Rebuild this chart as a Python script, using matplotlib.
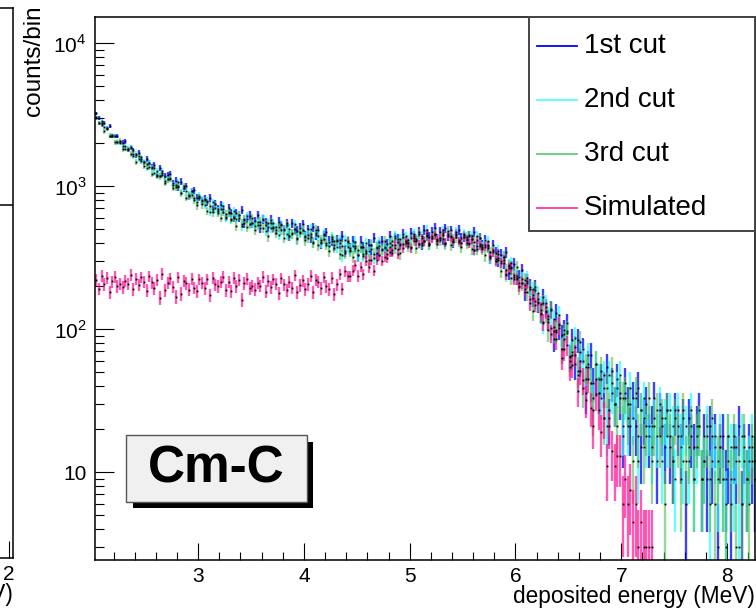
import numpy as np
import matplotlib
matplotlib.use('Agg')
import matplotlib.pyplot as plt
from matplotlib.patches import Rectangle
from matplotlib.lines import Line2D
from matplotlib.ticker import FixedLocator, MultipleLocator, NullFormatter

plt.rcParams['font.family'] = ['Liberation Sans', 'DejaVu Sans']
plt.rcParams['mathtext.fontset'] = 'custom'
plt.rcParams['mathtext.rm'] = 'Liberation Sans'

# histogram binning (MeV)
bin_lo = 2.025
bin_w = 0.025

# 1st cut (blue)
cut1 = [
    3221, 2980, 2762, 2752, 2544, 2617, 2245, 2241, 2239, 2036,
    2014, 2054, 1792, 1868, 1777, 1642, 1715, 1550, 1462, 1547,
    1454, 1351, 1398, 1201, 1338, 1227, 1177, 1196, 1221, 1046,
    1093, 981, 1074, 967, 1000, 850, 916, 938, 831, 831,
    784, 815, 770, 828, 690, 754, 689, 737, 686, 608,
    707, 649, 599, 647, 599, 683, 551, 593, 621, 552,
    569, 624, 508, 583, 560, 514, 583, 517, 490, 563,
    533, 494, 548, 447, 551, 500, 484, 512, 543, 449,
    497, 438, 514, 454, 489, 397, 452, 475, 409, 416,
    388, 421, 397, 446, 353, 408, 369, 411, 379, 327,
    409, 372, 342, 389, 361, 435, 343, 384, 415, 371,
    392, 451, 358, 434, 423, 391, 460, 410, 397, 468,
    450, 420, 478, 389, 494, 452, 443, 476, 510, 426,
    478, 424, 505, 450, 490, 404, 465, 493, 431, 443,
    417, 452, 428, 477, 379, 432, 385, 420, 379, 315,
    388, 343, 303, 330, 292, 345, 247, 269, 283, 228,
    233, 258, 181, 218, 198, 164, 197, 151, 130, 168,
    142, 118, 138, 85, 130, 102, 91, 99, 110, 64,
    84, 57, 84, 60, 72, 36, 57, 66, 42, 45,
    36, 45, 39, 54, 24, 42, 30, 45, 33, 18,
    42, 30, 21, 33, 21, 39, 15, 24, 30, 18,
    21, 33, 12, 27, 21, 15, 27, 15, 12, 27,
    21, 15, 24, 6, 24, 18, 15, 21, 27, 9,
    18, 9, 21, 12, 18, 3, 15, 18, 9, 12,
    6, 15, 12, 21, 6, 15, 9, 15, 12, 9,
]

# 2nd cut (cyan)
cut2 = [
    3045, 2775, 2843, 2583, 2560, 2245, 2282, 2247, 2041, 2004,
    1894, 1906, 1806, 1853, 1618, 1677, 1552, 1588, 1482, 1334,
    1446, 1335, 1236, 1274, 1185, 1276, 1078, 1114, 1132, 1018,
    1015, 1063, 897, 976, 930, 853, 922, 824, 778, 857,
    804, 742, 792, 657, 770, 697, 667, 690, 721, 602,
    656, 581, 666, 592, 631, 524, 590, 617, 541, 552,
    523, 561, 535, 593, 487, 550, 505, 552, 515, 454,
    543, 497, 459, 504, 466, 542, 431, 469, 496, 438,
    454, 504, 402, 469, 448, 406, 464, 403, 378, 439,
    410, 374, 419, 328, 418, 372, 358, 381, 409, 328,
    375, 325, 399, 351, 389, 316, 376, 405, 356, 373,
    356, 398, 385, 445, 361, 425, 394, 444, 420, 373,
    462, 425, 396, 445, 415, 493, 394, 435, 465, 416,
    435, 490, 393, 465, 449, 412, 476, 420, 400, 465,
    439, 403, 450, 355, 445, 394, 374, 390, 410, 317,
    355, 300, 354, 297, 319, 239, 279, 292, 233, 234,
    211, 225, 202, 228, 161, 190, 157, 178, 150, 110,
    151, 124, 102, 117, 95, 125, 72, 85, 94, 65,
    69, 87, 48, 69, 60, 45, 66, 42, 33, 57,
    45, 33, 48, 21, 48, 36, 30, 39, 48, 21,
    33, 21, 39, 24, 33, 12, 27, 33, 18, 21,
    15, 24, 18, 30, 12, 24, 18, 27, 21, 9,
    27, 18, 12, 21, 12, 27, 9, 15, 21, 9,
    12, 21, 6, 18, 15, 9, 18, 9, 6, 18,
    15, 9, 15, 3, 18, 12, 9, 12, 18, 12,
]

# 3rd cut (green)
cut3 = [
    2980, 2753, 2671, 2409, 2512, 2251, 2232, 2021, 2018, 2073,
    1815, 1828, 1828, 1674, 1679, 1474, 1617, 1486, 1382, 1431,
    1351, 1217, 1335, 1177, 1167, 1193, 1056, 1116, 1117, 974,
    978, 996, 894, 1000, 830, 868, 860, 799, 732, 833,
    743, 793, 673, 724, 656, 745, 652, 601, 663, 634,
    649, 592, 604, 528, 625, 546, 581, 519, 546, 599,
    494, 533, 563, 505, 535, 446, 553, 505, 468, 519,
    494, 433, 531, 451, 462, 497, 425, 478, 493, 417,
    436, 465, 406, 492, 385, 422, 426, 390, 352, 427,
    371, 415, 336, 381, 340, 411, 350, 320, 370, 355,
    373, 337, 354, 305, 387, 336, 371, 332, 362, 411,
    335, 376, 411, 370, 405, 338, 437, 403, 380, 430,
    416, 366, 464, 397, 413, 450, 389, 444, 462, 396,
    418, 452, 398, 488, 386, 428, 438, 407, 373, 452,
    398, 446, 363, 409, 363, 434, 365, 327, 371, 345,
    353, 311, 314, 256, 318, 258, 277, 228, 240, 271,
    197, 211, 222, 181, 192, 134, 189, 154, 128, 152,
    131, 98, 137, 97, 98, 109, 72, 92, 97, 60,
    66, 75, 51, 81, 39, 54, 54, 42, 27, 57,
    36, 51, 24, 39, 27, 51, 30, 21, 36, 33,
    36, 24, 30, 12, 36, 18, 27, 15, 21, 33,
    12, 21, 27, 18, 24, 6, 27, 18, 12, 24,
    18, 9, 27, 12, 15, 21, 9, 18, 21, 9,
    12, 18, 9, 24, 6, 12, 15, 9, 3, 18,
    9, 18, 3, 12, 6, 18, 9, 6, 15, 12,
]

# simulated (pink)
sim = [
    222, 192, 236, 206, 228, 182, 216, 232, 200, 208,
    196, 218, 208, 240, 190, 224, 204, 230, 214, 186,
    234, 212, 194, 220, 165, 244, 188, 210, 226, 198,
    168, 231, 177, 217, 209, 189, 225, 195, 185, 223,
    211, 193, 223, 173, 229, 205, 199, 215, 233, 187,
    215, 185, 229, 199, 221, 160, 209, 225, 193, 201,
    189, 211, 201, 233, 183, 217, 197, 223, 207, 179,
    227, 205, 187, 213, 195, 237, 181, 203, 219, 191,
    206, 236, 182, 222, 214, 194, 230, 200, 190, 228,
    175, 205, 241, 192, 255, 235, 234, 256, 280, 236,
    272, 243, 300, 271, 304, 256, 305, 332, 301, 319,
    313, 347, 343, 390, 337, 387, 370, 410, 397, 369,
    435, 412, 394, 431, 412, 468, 401, 430, 453, 418,
    432, 470, 402, 451, 439, 412, 455, 414, 399, 443,
    424, 396, 428, 358, 421, 383, 366, 377, 388, 324,
    345, 300, 336, 291, 304, 241, 266, 272, 225, 223,
    201, 211, 190, 210, 152, 173, 148, 162, 137, 112,
    134, 112, 93, 103, 85, 106, 63, 72, 77, 54,
    56, 66, 37, 51, 44, 32, 45, 28, 21, 35,
    27, 19, 24, 11, 21, 14, 11, 13, 13, 6,
    9, 6, 7.5, 4.5, 6, 3, 4.5, 3, 3, 3,
    3,
]

series = [
    (cut1, '#0000ff', 3.0, 0.75),
    (cut2, '#22ffff', 3.0, 0.7),
    (cut3, '#55bb55', 3.0, 0.6),
    (sim, '#ff1493', 2.0, 0.7),
]

fig = plt.figure(figsize=(7.56, 6.10), dpi=100)

# main pad
ax = fig.add_axes([95 / 756, 50 / 610, 660 / 756, 543 / 610])
ax.set_yscale('log')

for vals, col, k, al in series:
    v = np.array(vals, dtype=float)
    x = bin_lo + bin_w * (np.arange(len(v)) + 0.5)
    err = np.sqrt(k * v)
    lo = np.minimum(err, v - 0.3)
    ax.errorbar(x, v, yerr=[lo, err], fmt='none', ecolor=col, elinewidth=1.7,
                alpha=al, capsize=0, zorder=2)
    ax.plot(x, v, 's', ms=1.3, mec='none', color='black', zorder=3)

ax.set_xlim(2.025, 8.265)
ax.set_ylim(2.43, 1.52e4)

ax.xaxis.set_major_locator(FixedLocator([3, 4, 5, 6, 7, 8]))
ax.xaxis.set_minor_locator(MultipleLocator(0.2))
ax.yaxis.set_major_locator(FixedLocator([10, 100, 1000, 10000]))
ax.set_yticklabels(['10', r'$10^{2}$', r'$10^{3}$', r'$10^{4}$'])
ax.yaxis.set_minor_formatter(NullFormatter())

ax.tick_params(axis='x', which='major', direction='in', length=12, width=0.8,
               labelsize=15, pad=5, top=False)
ax.tick_params(axis='x', which='minor', direction='in', length=5.8, width=0.8, top=False)
ax.tick_params(axis='y', which='major', direction='in', length=14, width=0.8,
               labelsize=15, pad=6, right=False)
ax.tick_params(axis='y', which='minor', direction='in', length=6.5, width=0.8, right=False)
for s in ax.spines.values():
    s.set_linewidth(1.1)

ax.set_xlabel('deposited energy (MeV)', fontsize=16.3, loc='right', labelpad=-1)
ax.set_ylabel('counts/bin', fontsize=17.5, loc='top')
ax.yaxis.set_label_coords(-0.076, 1.022)

# legend box
ax.add_patch(Rectangle((0.6576, 0.606), 0.3424, 0.394, transform=ax.transAxes,
                       facecolor='white', edgecolor='#444444', lw=1.4, zorder=5,
                       clip_on=False))
leg_y = [0.9466, 0.847, 0.7477, 0.648]
leg_labels = ['1st cut', '2nd cut', '3rd cut', 'Simulated']
leg_cols = ['#0000ff', '#55ffff', '#66cc77', '#ff33aa']
for yy, lab, col in zip(leg_y, leg_labels, leg_cols):
    ax.add_line(Line2D([0.6697, 0.7303], [yy, yy], transform=ax.transAxes,
                       color=col, lw=1.3, zorder=6))
    ax.text(0.741, yy, lab, transform=ax.transAxes, fontsize=20,
            va='center', ha='left', zorder=6)

# Cm-C label with shadow
ax.add_patch(Rectangle((0.057, 0.095), 0.274, 0.123, transform=ax.transAxes,
                       facecolor='black', edgecolor='black', lw=0, zorder=6))
ax.add_patch(Rectangle((0.047, 0.107), 0.274, 0.123, transform=ax.transAxes,
                       facecolor='#f0f0f0', edgecolor='#555555', lw=1.0, zorder=7))
ax.text(0.183, 0.168, 'Cm-C', transform=ax.transAxes, fontsize=37,
        fontweight='bold', ha='center', va='center', zorder=8)

# neighbouring pad on the left (only its edge shows)
axl = fig.add_axes([-300 / 756, 52 / 610, 313 / 756, 550 / 610])
axl.set_xlim(0, 2.029)
axl.set_ylim(0, 1)
axl.xaxis.set_major_locator(FixedLocator([2]))
axl.xaxis.set_minor_locator(MultipleLocator(0.2))
axl.set_yticks([])
axl.tick_params(axis='x', which='major', direction='in', length=12, width=0.8,
                labelsize=15, pad=5, top=False)
axl.tick_params(axis='x', which='minor', direction='in', length=5.8, width=0.8, top=False)
for s in axl.spines.values():
    s.set_linewidth(1.1)
axl.set_xlabel('deposited energy (MeV)', fontsize=16.3, loc='right', labelpad=-1)
axl.add_line(Line2D([0.9, 1.0], [0.642, 0.642], transform=axl.transAxes,
                    color='black', lw=1.1))

fig.savefig('out.png', dpi=100)
